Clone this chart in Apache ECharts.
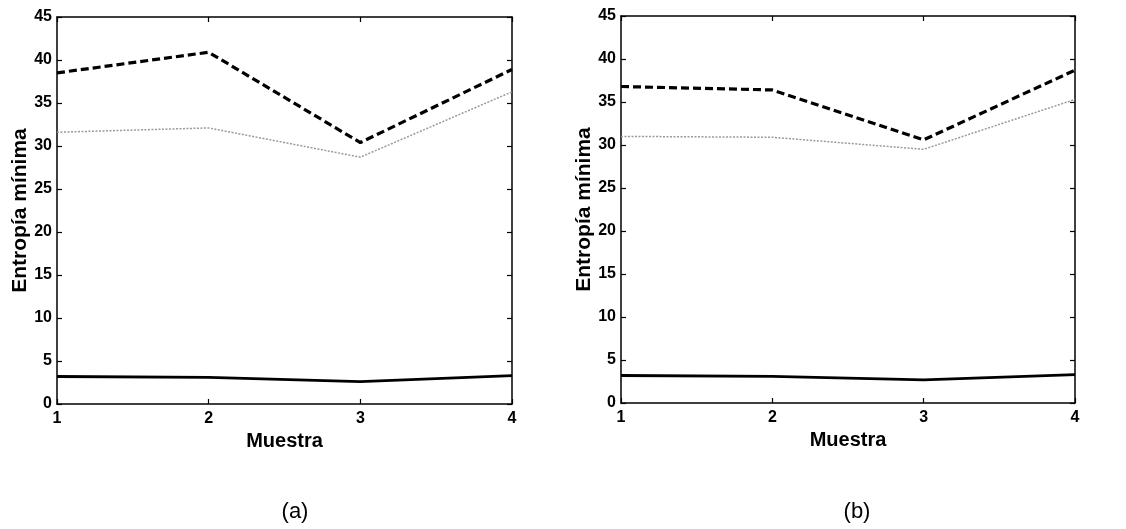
<!DOCTYPE html>
<html>
<head>
<meta charset="utf-8">
<script src="https://cdn.jsdelivr.net/npm/echarts@6/dist/echarts.min.js"></script>
<style>
  html, body { margin: 0; padding: 0; background: #fff; }
  #chart { width: 1126px; height: 529px; }
</style>
</head>
<body>
<div id="chart"></div>
<script>
  // muestras (eje x)
  const muestras = [1, 2, 3, 4];
  // panel (a)
  const aDiscontinua = [38.5, 40.9, 30.4, 38.9];
  const aPunteada = [31.6, 32.1, 28.7, 36.3];
  const aContinua = [3.2, 3.1, 2.6, 3.3];
  // panel (b)
  const bDiscontinua = [36.8, 36.4, 30.6, 38.7];
  const bPunteada = [31.0, 30.9, 29.5, 35.3];
  const bContinua = [3.2, 3.1, 2.7, 3.3];
  const yTicks = [0, 5, 10, 15, 20, 25, 30, 35, 40, 45];

  const font = 'Liberation Sans, Arial, sans-serif';

  function pares (ys) {
    return muestras.map((x, i) => [x, ys[i]]);
  }

  function ejeX (gi, main) {
    return {
      type: 'value', gridIndex: gi, min: 1, max: 4, interval: 1,
      position: main ? 'bottom' : 'top',
      name: main ? 'Muestra' : '',
      nameLocation: 'middle', nameGap: 26,
      nameTextStyle: { fontFamily: font, fontWeight: 'bold', fontSize: 20, color: '#000' },
      axisLine: { show: true, onZero: false, lineStyle: { color: '#000', width: 1.5 } },
      axisTick: { show: true, inside: true, length: 5, lineStyle: { color: '#000', width: 1.2 } },
      axisLabel: { show: main, fontFamily: font, fontWeight: 'bold', fontSize: 16, color: '#000', margin: 7 },
      splitLine: { show: false }
    };
  }

  function ejeY (gi, main) {
    return {
      type: 'value', gridIndex: gi, min: 0, max: 45, interval: 5,
      position: main ? 'left' : 'right',
      name: main ? 'Entropía mínima' : '',
      nameLocation: 'middle', nameGap: 25,
      nameTextStyle: { fontFamily: font, fontWeight: 'bold', fontSize: 21, color: '#000' },
      axisLine: { show: true, onZero: false, lineStyle: { color: '#000', width: 1.5 } },
      axisTick: { show: true, inside: true, length: 5, lineStyle: { color: '#000', width: 1.2 } },
      axisLabel: { show: main, fontFamily: font, fontWeight: 'bold', fontSize: 16, color: '#000', margin: 5,
        formatter: v => yTicks.includes(v) ? String(v) : '' },
      splitLine: { show: false }
    };
  }

  function series (gi, dis, pun, con) {
    const base = { type: 'line', xAxisIndex: gi * 2, yAxisIndex: gi * 2, showSymbol: false, symbol: 'none', animation: false };
    return [
      Object.assign({}, base, { data: pares(pun), lineStyle: { color: '#9a9a9a', width: 1.5, type: [2, 1.5] } }),
      Object.assign({}, base, { data: pares(dis), lineStyle: { color: '#000', width: 3.2, type: [8, 4] } }),
      Object.assign({}, base, { data: pares(con), lineStyle: { color: '#000', width: 2.8 } })
    ];
  }

  const option = {
    backgroundColor: '#fff',
    animation: false,
    title: [
      { text: '(a)', left: 290, top: 496, textAlign: 'center',
        textStyle: { fontFamily: font, fontWeight: 'normal', fontSize: 22, color: '#000' } },
      { text: '(b)', left: 852, top: 496, textAlign: 'center',
        textStyle: { fontFamily: font, fontWeight: 'normal', fontSize: 22, color: '#000' } }
    ],
    grid: [
      { left: 57, top: 17, width: 455, height: 387 },
      { left: 621, top: 16, width: 454, height: 387 }
    ],
    xAxis: [ejeX(0, true), ejeX(0, false), ejeX(1, true), ejeX(1, false)],
    yAxis: [ejeY(0, true), ejeY(0, false), ejeY(1, true), ejeY(1, false)],
    series: [].concat(
      series(0, aDiscontinua, aPunteada, aContinua),
      series(1, bDiscontinua, bPunteada, bContinua)
    )
  };

  const chart = echarts.init(document.getElementById('chart'));
  chart.setOption(option);
</script>
</body>
</html>
